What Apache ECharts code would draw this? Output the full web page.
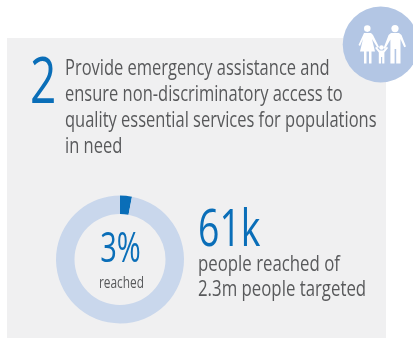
<!DOCTYPE html>
<html>
<head>
<meta charset="utf-8">
<style>html,body{margin:0;padding:0;background:#fff}#c{width:413px;height:338px}</style>
<script src="https://cdn.jsdelivr.net/npm/echarts@6/dist/echarts.min.js"></script>
</head>
<body>
<div id="c"></div>
<script>
// Progress figures for objective 2
const reachedShare = [3];
const remainingShare = [97];
const objectiveNumber = '2';
const objectiveLines = [
  'Provide emergency assistance and',
  'ensure non-discriminatory access to',
  'quality essential services for populations',
  'in need'
];
const centreValue = '3%';
const centreCaption = 'reached';
const headline = '61k';
const headlineLines = ['people reached of', '2.3m people targeted'];

const BLUE = '#0a6eb8', GREY = '#58595b', FONT = '"Open Sans", sans-serif';

function text(str, x, y, size, fill, scaleX, align) {
  return {
    type: 'text', x: x, y: y, scaleX: scaleX || 1, z: 5,
    style: { text: str, fontFamily: FONT, fontSize: size, fill: fill,
             align: align || 'left', verticalAlign: 'middle' }
  };
}

const white = { fill: '#fff' };
function figure(points) {
  return { type: 'polygon', z: 4, shape: { points: points }, style: white };
}
// Family pictogram: woman, child and man holding hands
const family = [
  { type: 'circle', z: 4, shape: { cx: 367.3, cy: 28.6, r: 3.3 }, style: white },
  { type: 'circle', z: 4, shape: { cx: 395, cy: 28.6, r: 3.6 }, style: white },
  { type: 'circle', z: 4, shape: { cx: 381.5, cy: 47.5, r: 2.3 }, style: white },
  figure([[364,33],[371,33],[373,35],[379,47],[377.6,48],[372,39],[375,51.5],[371.5,51.5],[371.5,63.5],[369,63.5],[369,51.5],[366.5,51.5],[366.5,63.5],[364,63.5],[364,51.5],[360,51.5],[363,39],[360,46],[358.5,45]]),
  figure([[391,33],[399,33],[401.5,35],[406,46.5],[404.2,47.3],[400.5,39],[400.5,63.5],[396.2,63.5],[396.2,49],[394.6,49],[394.6,63.5],[390.4,63.5],[390.4,39.5],[385,49],[383.6,48],[388.6,35]]),
  figure([[379.8,50.5],[383.2,50.5],[387,46.8],[388,48],[384.4,52.6],[384.4,63.5],[382.2,63.5],[382.2,57],[381,57],[381,63.5],[378.8,63.5],[378.8,52.6],[375.2,48],[376.2,46.8]])
];

const graphicElements = [
  { type: 'rect', z: 0, shape: { x: 7, y: 38, width: 379, height: 300 }, style: { fill: '#f0f0f1' } },
  { type: 'circle', z: 3, shape: { cx: 380.7, cy: 44.5, r: 38 }, style: { fill: '#b3c6e4' } },
  ...family,
  text(objectiveNumber, 30, 85, 64, BLUE, 0.72)
];
objectiveLines.forEach((line, i) => {
  graphicElements.push(text(line, 65, 69.5 + i * 25.7, 21, GREY, 0.785));
});
graphicElements.push(text(centreValue, 120.5, 250, 42, BLUE, 0.69, 'center'));
graphicElements.push(text(centreCaption, 121.5, 283.5, 16, GREY, 0.743, 'center'));
graphicElements.push(text(headline, 198, 231.5, 52, BLUE, 0.72));
headlineLines.forEach((line, i) => {
  graphicElements.push(text(line, 198, 265 + i * 25, 21, GREY, 0.8));
});

const chart = echarts.init(document.getElementById('c'), null, { renderer: 'canvas' });
chart.setOption({
  animation: false,
  graphic: { elements: graphicElements },
  series: [{
    type: 'pie',
    z: 2,
    center: [120, 259.5],
    radius: [45.5, 64],
    startAngle: 90,
    clockwise: true,
    silent: true,
    label: { show: false },
    labelLine: { show: false },
    data: [
      { value: reachedShare[0], name: 'Reached', itemStyle: { color: BLUE } },
      { value: remainingShare[0], name: 'Remaining', itemStyle: { color: '#c9d7ec' } }
    ]
  }]
});
</script>
</body>
</html>
